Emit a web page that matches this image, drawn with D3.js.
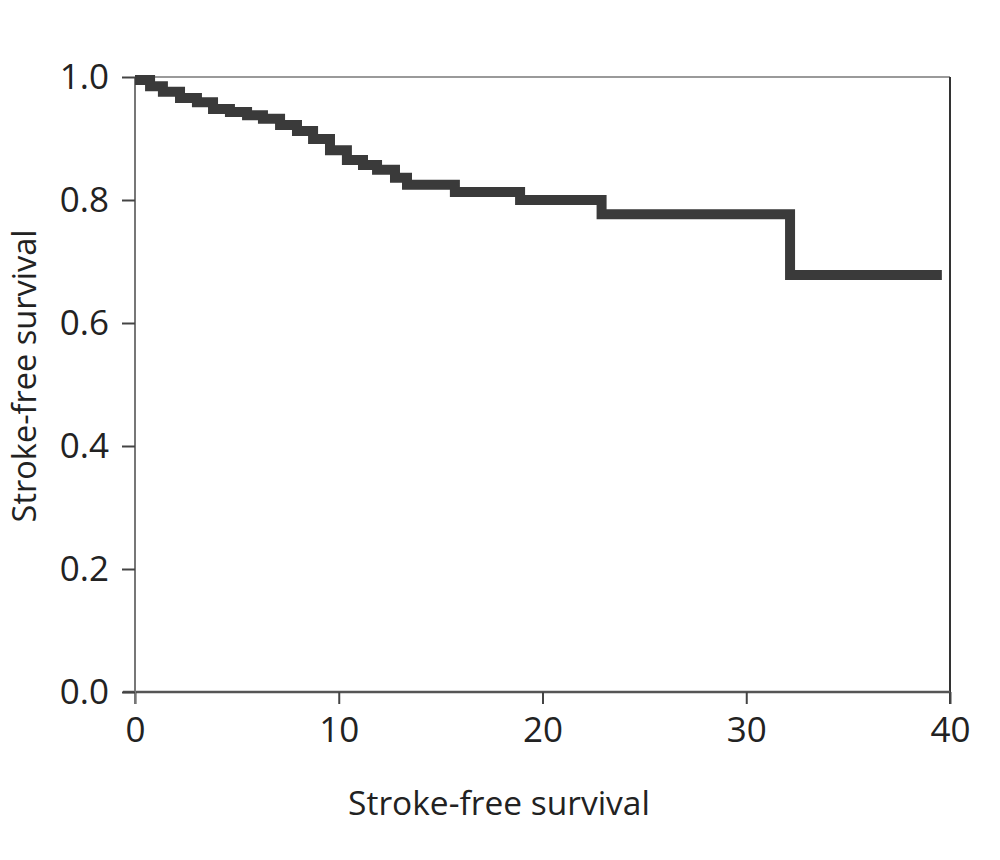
<!DOCTYPE html>
<html>
<head>
<meta charset="utf-8">
<script src="https://cdn.jsdelivr.net/npm/d3@7"></script>
<style>
  body { margin: 0; background: #fff; }
  text { font-family: "Open Sans", "Noto Sans", sans-serif; fill: #222; }
</style>
</head>
<body>
<svg id="chart" width="1000" height="860"></svg>
<script>
// Kaplan-Meier steps (time, survival)
const times = [0, 0.74, 1.37, 2.21, 3.04, 3.83, 4.66, 5.50, 6.28, 7.12, 7.95, 8.74, 9.57,
    10.40, 11.19, 11.88, 12.76, 13.35, 15.7, 18.9, 22.9, 32.15, 39.6];
const survival = [0.995, 0.985, 0.976, 0.966, 0.959, 0.948, 0.943, 0.938, 0.932, 0.922, 0.912,
    0.899, 0.881, 0.865, 0.857, 0.849, 0.836, 0.825, 0.813, 0.800, 0.777, 0.678, 0.678];
const xTicks = [0, 10, 20, 30, 40];
const yTicks = [0, 0.2, 0.4, 0.6, 0.8, 1.0];
const xLabel = 'Stroke-free survival';
const yLabel = 'Stroke-free survival';

const svg = d3.select('#chart');
const margin = { left: 135, right: 50, top: 77, bottom: 168 };
const width = 1000 - margin.left - margin.right;
const height = 860 - margin.top - margin.bottom;

const x = d3.scaleLinear().domain([0, 40]).range([0, width]);
const y = d3.scaleLinear().domain([0, 1]).range([height, 0]);

const g = svg.append('g').attr('transform', `translate(${margin.left},${margin.top})`);

// frame: top and right
g.append('line')
    .attr('x1', 0).attr('x2', width).attr('y1', 0).attr('y2', 0)
    .attr('stroke', '#9a9a9a').attr('stroke-width', 2);
g.append('line')
    .attr('x1', width).attr('x2', width).attr('y1', 0).attr('y2', height + 12)
    .attr('stroke', '#333').attr('stroke-width', 2);

const xAxis = g.append('g')
    .attr('transform', `translate(0,${height})`)
    .call(d3.axisBottom(x).tickValues(xTicks).tickSize(12).tickPadding(13).tickFormat(d3.format('d')));
xAxis.select('.domain').attr('stroke', '#555').attr('stroke-width', 2.5)
    .attr('d', `M-12,0H${width}`);
xAxis.selectAll('.tick line').attr('stroke', '#444').attr('stroke-width', 2);
xAxis.selectAll('text').attr('font-size', 35).attr('fill', '#222')
    .style('font-family', '"Open Sans", sans-serif');

const yAxis = g.append('g')
    .call(d3.axisLeft(y).tickValues(yTicks).tickSize(13).tickPadding(13).tickFormat(d3.format('.1f')));
yAxis.select('.domain').attr('stroke', '#777').attr('stroke-width', 2)
    .attr('d', `M0,0V${height + 12}`);
yAxis.selectAll('.tick line').attr('stroke', '#444').attr('stroke-width', 2);
yAxis.selectAll('text').attr('font-size', 35).attr('fill', '#222')
    .style('font-family', '"Open Sans", sans-serif');

// survival curve
const data = times.map((t, i) => ({ t, s: survival[i] }));
const line = d3.line()
    .x(d => x(d.t))
    .y(d => y(d.s))
    .curve(d3.curveStepAfter);

g.append('path')
    .datum(data)
    .attr('d', line)
    .attr('fill', 'none')
    .attr('stroke', '#3a3a3a')
    .attr('stroke-width', 10)
    .attr('stroke-linejoin', 'miter');

// axis labels
svg.append('text')
    .attr('x', 499)
    .attr('y', 815)
    .attr('font-size', 33.5)
    .attr('text-anchor', 'middle')
    .text(xLabel);

svg.append('text')
    .attr('transform', `translate(36,376) rotate(-90)`)
    .attr('font-size', 32.5)
    .attr('text-anchor', 'middle')
    .text(yLabel);
</script>
</body>
</html>
